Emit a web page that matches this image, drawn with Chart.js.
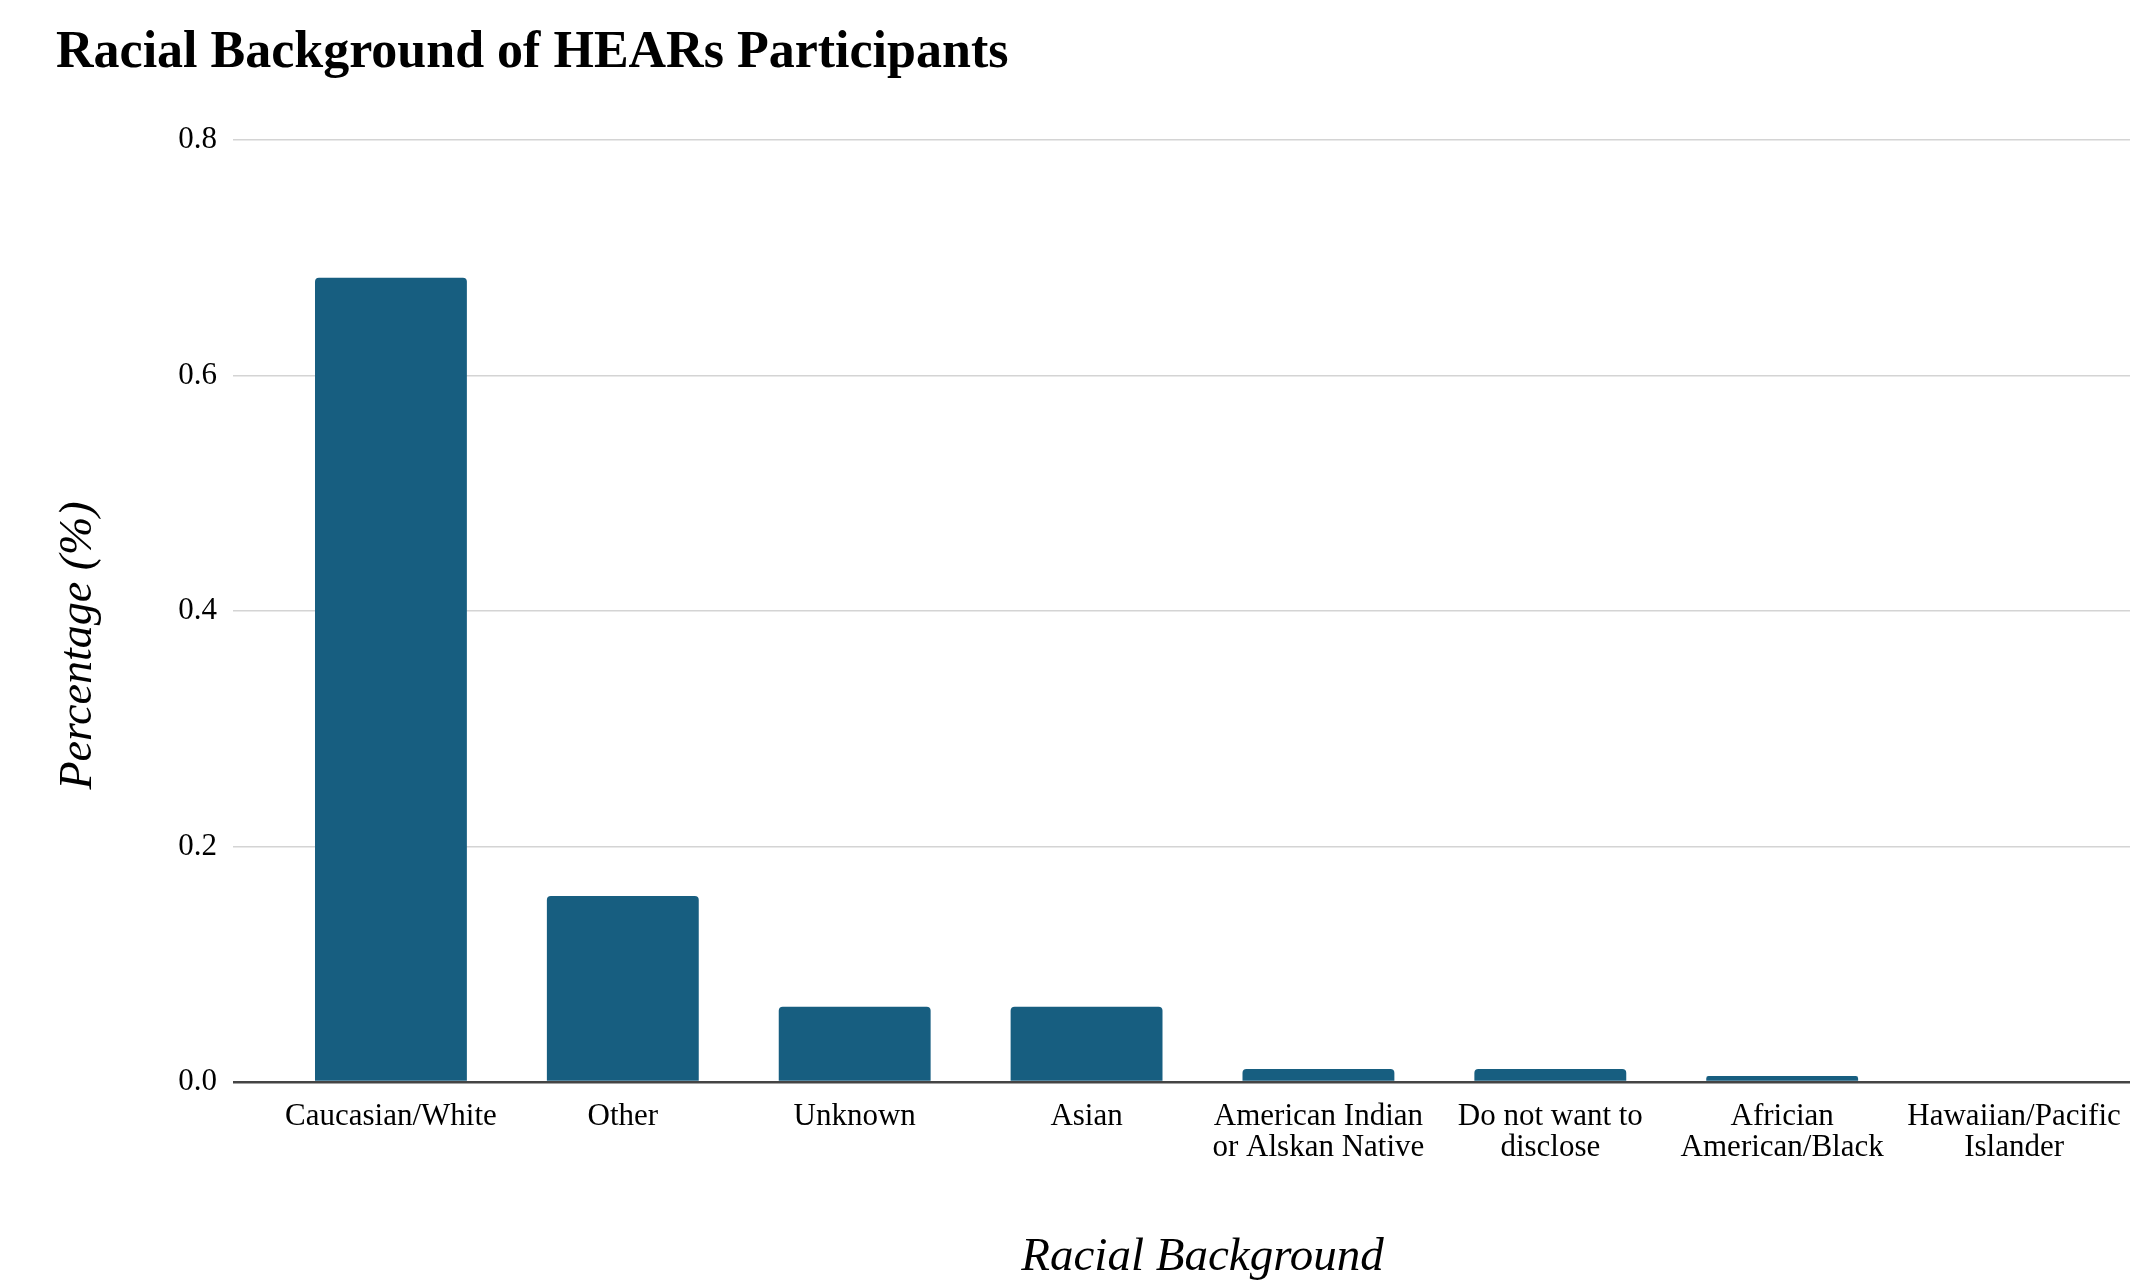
<!DOCTYPE html>
<html>
<head>
<meta charset="utf-8">
<script src="https://cdn.jsdelivr.net/npm/chart.js@4"></script>
<style>
  body { margin: 0; background: #fff; }
  #wrap { width: 2130px; height: 1281px; }
</style>
</head>
<body>
<div id="wrap"><canvas id="raceChart" width="2130" height="1281"></canvas></div>
<script>
const categories = [
  "Caucasian/White",
  "Other",
  "Unknown",
  "Asian",
  ["American Indian", "or Alskan Native"],
  ["Do not want to", "disclose"],
  ["Africian", "American/Black"],
  ["Hawaiian/Pacific", "Islander"]
];
const shares = [0.683, 0.158, 0.064, 0.064, 0.011, 0.011, 0.005, 0];
const yTicks = [0, 0.2, 0.4, 0.6, 0.8];

const serif = "'Liberation Serif', 'Times New Roman', serif";
const barColor = "#175e80";

function lineColor(ctx) {
  return ctx.tick && ctx.tick.value === 0 ? "#444444" : "#d4d4d4";
}
function lineWidth(ctx) {
  return ctx.tick && ctx.tick.value === 0 ? 2.6 : 1.5;
}

const data = {
  labels: categories,
  datasets: [
    {
      label: "Percentage",
      data: shares,
      backgroundColor: barColor,
      borderRadius: { topLeft: 4, topRight: 4 },
      borderSkipped: "bottom",
      barPercentage: 0.655,
      categoryPercentage: 1.0,
    },
  ],
};

const config = {
  type: "bar",
  data: data,
  options: {
    responsive: false,
    animation: false,
    layout: { padding: { left: 56, right: 0, top: 0, bottom: 0 } },
    plugins: {
      legend: { display: false },
      tooltip: { enabled: false },
      title: {
        display: true,
        text: "Racial Background of HEARs Participants",
        align: "start",
        color: "#000",
        font: { family: serif, size: 52, weight: "bold", lineHeight: 1.2 },
        padding: { top: 22, bottom: 55.6 },
      },
    },
    scales: {
      x: {
        grid: { display: false, drawTicks: false },
        border: { display: false },
        ticks: {
          color: "#000",
          padding: 19,
          maxRotation: 0,
          autoSkip: false,
          font: { family: serif, size: 31, lineHeight: 1.0 },
        },
        title: {
          display: true,
          text: "Racial Background",
          color: "#000",
          font: { family: serif, size: 47, style: "italic", lineHeight: 1.0 },
          padding: { top: 0, bottom: 0 },
        },
        afterFit: function (scale) {
          scale.height = 199;
          scale.paddingLeft = 0;
          scale.paddingRight = 0;
        },
      },
      y: {
        min: 0,
        max: 0.8,
        afterBuildTicks: function (scale) {
          scale.ticks = yTicks.map(function (v) { return { value: v }; });
        },
        grid: {
          color: lineColor,
          tickColor: lineColor,
          lineWidth: lineWidth,
          drawTicks: true,
          tickLength: 42,
        },
        border: { display: false },
        ticks: {
          color: "#000",
          padding: 16,
          font: { family: serif, size: 31 },
          callback: function (v) { return Number(v).toFixed(1); },
        },
        title: {
          display: true,
          text: "Percentage (%)      ",
          color: "#000",
          font: { family: serif, size: 46, style: "italic", lineHeight: 1.0 },
          padding: { top: 0, bottom: 0 },
        },
        afterFit: function (scale) {
          scale.width = 219;
        },
      },
    },
  },
};

const raceChart = new Chart(document.getElementById("raceChart"), config);
</script>
</body>
</html>
